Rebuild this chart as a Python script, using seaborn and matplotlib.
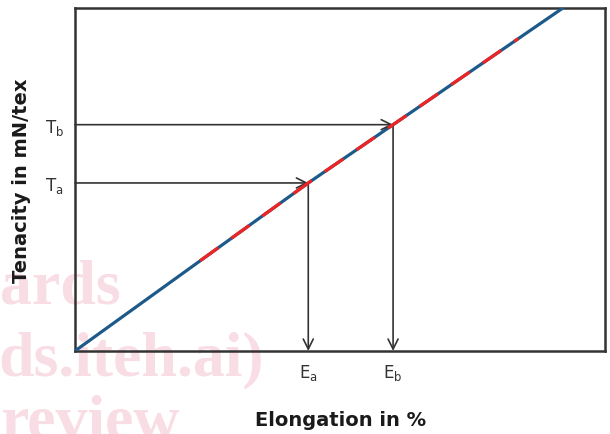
import matplotlib
matplotlib.use('Agg')
import matplotlib.pyplot as plt
import seaborn as sns
import pandas as pd

# stress-strain line (arbitrary units, axes 0..100)
elong = [0, 44, 60, 92]
tenacity = [0, 49, 66, 100]

# red dashed overlay segment
red_elong = [23.6, 44, 60, 83.6]
red_tenacity = [26.3, 49, 66, 91.1]

# marked points
pt_names = ['a', 'b']
pt_elong = [44, 60]
pt_tenacity = [49, 66]

sns.set_style('white')
plt.rcParams['font.family'] = ['DejaVu Sans']

fig = plt.figure(figsize=(6.1, 4.35), dpi=100)
ax = fig.add_axes([0.123, 0.191, 0.869, 0.788])
ax.patch.set_alpha(0)

# watermark (faint pink, behind the chart)
wm = dict(color='#f9dde4', fontsize=46, fontweight='bold', family='Liberation Serif', zorder=-1)
fig.text(0.0, 0.303, 'ards', ha='left', va='baseline', **wm)
fig.text(-0.003, 0.138, 'ds.iteh.ai)', ha='left', va='baseline', **wm)
fig.text(0.0, -0.01, 'review', ha='left', va='baseline', **wm)

df = pd.DataFrame({'elong': elong, 'tenacity': tenacity})
df_red = pd.DataFrame({'elong': red_elong, 'tenacity': red_tenacity})
sns.lineplot(data=df, x='elong', y='tenacity', color='#1d5a8a', linewidth=2.3, ax=ax, zorder=3)
sns.lineplot(data=df_red, x='elong', y='tenacity', color='#ee2424', linewidth=2.3,
             ax=ax, zorder=4)
ax.lines[-1].set_dashes((7, 5))

for e, t in zip(pt_elong, pt_tenacity):
    ax.annotate('', xy=(e, t), xytext=(0, t),
                arrowprops=dict(arrowstyle='->', color='#333333', lw=1.2,
                                mutation_scale=18, shrinkA=0, shrinkB=0))
    ax.annotate('', xy=(e, 0), xytext=(e, t),
                arrowprops=dict(arrowstyle='->', color='#333333', lw=1.2,
                                mutation_scale=18, shrinkA=0, shrinkB=0))

ax.set_xlim(0, 100)
ax.set_ylim(0, 100)
ax.set_xticks(pt_elong)
ax.set_xticklabels([f'E$_\\mathregular{{{n}}}$' for n in pt_names])
ax.set_yticks(pt_tenacity)
ax.set_yticklabels([f'T$_\\mathregular{{{n}}}$' for n in pt_names])
ax.tick_params(length=0, labelsize=12, colors='#333333', pad=8)

for s in ax.spines.values():
    s.set_color('#333333')
    s.set_linewidth(1.8)

ax.set_xlabel('Elongation in %', fontsize=14, fontweight='bold', color='#1a1a1a', labelpad=20)
ax.set_ylabel('Tenacity in mN/tex', fontsize=14, fontweight='bold', color='#1a1a1a', labelpad=10)

fig.savefig('out.png', dpi=100)
